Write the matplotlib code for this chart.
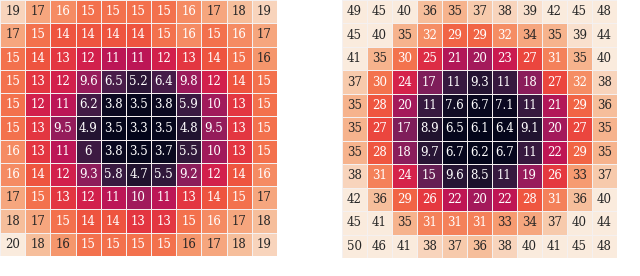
import matplotlib
matplotlib.use("Agg")
import matplotlib.pyplot as plt
import numpy as np
import seaborn as sns

# per-pixel error values, left map (a few 16s are a bit above 16, they print dark)
left_vals = [
    [19, 17, 16, 15, 15, 15, 15, 16, 17, 18, 19],
    [17, 15, 14, 14, 14, 14, 15, 16, 15, 16, 17],
    [15, 14, 13, 12, 11, 11, 12, 13, 14, 15, 16.4],
    [15, 13, 12, 9.6, 6.5, 5.2, 6.4, 9.8, 12, 14, 15],
    [15, 12, 11, 6.2, 3.8, 3.5, 3.8, 5.9, 10, 13, 15],
    [15, 13, 9.5, 4.9, 3.5, 3.3, 3.5, 4.8, 9.5, 13, 15],
    [16, 13, 11, 6, 3.8, 3.5, 3.7, 5.5, 10, 13, 15],
    [16, 14, 12, 9.3, 5.8, 4.7, 5.5, 9.2, 12, 14, 16],
    [17, 15, 13, 12, 11, 10, 11, 13, 14, 15, 17],
    [18, 17, 15, 14, 14, 13, 13, 15, 16, 17, 18],
    [20, 18, 16.4, 15, 15, 15, 15, 16.4, 17, 18, 19],
]

# per-pixel error values, right map
right_vals = [
    [49, 45, 40, 36, 35, 37, 38, 39, 42, 45, 48],
    [45, 40, 35, 32, 29, 29, 32, 34, 35, 39, 44],
    [41, 35, 30, 25, 21, 20, 23, 27, 31, 35, 40],
    [37, 30, 24, 17, 11, 9.3, 11, 18, 27, 32, 38],
    [35, 28, 20, 11, 7.6, 6.7, 7.1, 11, 21, 29, 36],
    [35, 27, 17, 8.9, 6.5, 6.1, 6.4, 9.1, 20, 27, 35],
    [35, 28, 18, 9.7, 6.7, 6.2, 6.7, 11, 22, 29, 35],
    [38, 31, 24, 15, 9.6, 8.5, 11, 19, 26, 33, 37],
    [42, 36, 29, 26, 22, 20, 22, 28, 31, 36, 40],
    [45, 41, 35, 31, 31, 31, 33, 34, 37, 40, 44],
    [50, 46, 41, 38, 37, 36, 38, 40, 41, 45, 48],
]

plt.rcParams["font.family"] = ["DejaVu Serif"]

fig = plt.figure(figsize=(6.4, 2.76), dpi=100)
ax1 = fig.add_axes([0 / 640, 20 / 276, 277 / 640, 256 / 276])
ax2 = fig.add_axes([342 / 640, 18 / 276, 275 / 640, 258 / 276])

# right map colour scale saturates around 40
for ax, vals, lims in [(ax1, left_vals, (None, None)), (ax2, right_vals, (6.1, 40))]:
    sns.heatmap(np.array(vals), ax=ax, cmap="rocket", annot=True, fmt=".2g",
                cbar=False, linewidths=0.6, linecolor="#f4f0f0",
                vmin=lims[0], vmax=lims[1],
                annot_kws={"fontsize": 8.5})
    ax.set_xticks([])
    ax.set_yticks([])

fig.savefig("out.png", dpi=100)
